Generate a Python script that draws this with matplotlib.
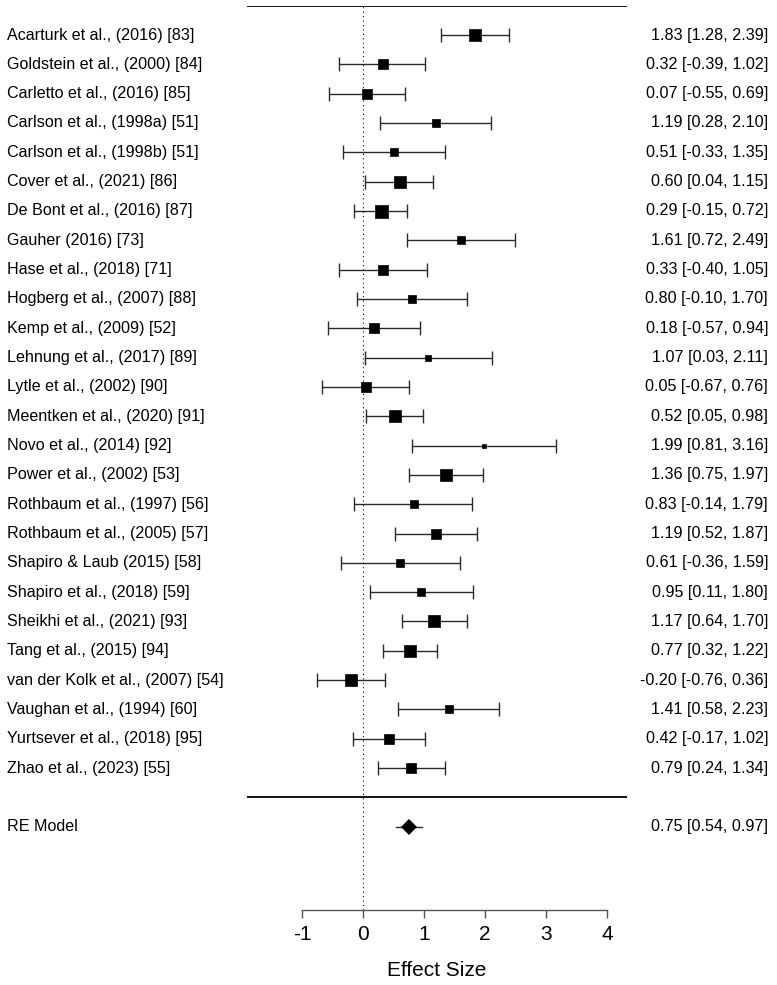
import numpy as np
import matplotlib
matplotlib.use("Agg")
from matplotlib import pyplot as plt

plt.rcParams['font.family'] = ['Liberation Sans', 'DejaVu Sans']

# studies, top to bottom
studies = [
    "Acarturk et al., (2016) [83]", "Goldstein et al., (2000) [84]",
    "Carletto et al., (2016) [85]", "Carlson et al., (1998a) [51]",
    "Carlson et al., (1998b) [51]", "Cover et al., (2021) [86]",
    "De Bont et al., (2016) [87]", "Gauher (2016) [73]",
    "Hase et al., (2018) [71]", "Hogberg et al., (2007) [88]",
    "Kemp et al., (2009) [52]", "Lehnung et al., (2017) [89]",
    "Lytle et al., (2002) [90]", "Meentken et al., (2020) [91]",
    "Novo et al., (2014) [92]", "Power et al., (2002) [53]",
    "Rothbaum et al., (1997) [56]", "Rothbaum et al., (2005) [57]",
    "Shapiro & Laub (2015) [58]", "Shapiro et al., (2018) [59]",
    "Sheikhi et al., (2021) [93]", "Tang et al., (2015) [94]",
    "van der Kolk et al., (2007) [54]", "Vaughan et al., (1994) [60]",
    "Yurtsever et al., (2018) [95]", "Zhao et al., (2023) [55]",
]
effect = [1.83, 0.32, 0.07, 1.19, 0.51, 0.60, 0.29, 1.61, 0.33, 0.80, 0.18, 1.07, 0.05,
          0.52, 1.99, 1.36, 0.83, 1.19, 0.61, 0.95, 1.17, 0.77, -0.20, 1.41, 0.42, 0.79]
ci_low = [1.28, -0.39, -0.55, 0.28, -0.33, 0.04, -0.15, 0.72, -0.40, -0.10, -0.57, 0.03, -0.67,
          0.05, 0.81, 0.75, -0.14, 0.52, -0.36, 0.11, 0.64, 0.32, -0.76, 0.58, -0.17, 0.24]
ci_high = [2.39, 1.02, 0.69, 2.10, 1.35, 1.15, 0.72, 2.49, 1.05, 1.70, 0.94, 2.11, 0.76,
           0.98, 3.16, 1.97, 1.79, 1.87, 1.59, 1.80, 1.70, 1.22, 0.36, 2.23, 1.02, 1.34]
# approximate study weights (%), read from the square sizes
weights = [4.56, 3.89, 4.11, 3.00, 3.22, 4.56, 5.00, 3.00, 3.89, 3.00, 3.67, 2.33, 3.89,
           4.78, 1.00, 4.33, 2.78, 4.11, 2.78, 3.22, 4.33, 4.78, 4.33, 3.22, 4.11, 4.11]

re_label = "RE Model"
re_effect, re_low, re_high = 0.75, 0.54, 0.97

xticks = [-1, 0, 1, 2, 3, 4]
xlabel = "Effect Size"

k = len(studies)
rows = np.arange(k, 0, -1)

fig = plt.figure(figsize=(7.77, 9.85), dpi=100)
# 0 sits at 363 px, 61 px per unit; rows run from 5.7 px (row 27) to the axis at 910 px
ax = fig.add_axes([0, 1 - 910 / 985, 1, (910 - 5.7) / 985])
ax.set_xlim(-363 / 61, (777 - 363) / 61)
ax.set_ylim(-3.84, k + 1)

fs = 11.6
x_left = (7 - 363) / 61
x_right = (768 - 363) / 61
line_col = '#2a2a2a'

# side of the squares grows with the weight
w = np.array(weights)
side_px = 4 + (w - w.min()) / (w.max() - w.min()) * 9
ms = side_px * 0.72

for i in range(k):
    y = rows[i]
    ax.errorbar(effect[i], y, xerr=[[effect[i] - ci_low[i]], [ci_high[i] - effect[i]]],
                fmt='none', ecolor=line_col, elinewidth=1.0, capsize=5, capthick=1.0, zorder=2)
    ax.plot(effect[i], y, marker='s', ms=ms[i], color='black', mec='black', mew=0.5, zorder=3)
    ax.text(x_left, y, studies[i], ha='left', va='center', fontsize=fs)
    ax.text(x_right, y, f"{effect[i]:.2f} [{ci_low[i]:.2f}, {ci_high[i]:.2f}]",
            ha='right', va='center', fontsize=fs)

# summary
ax.plot([re_low, re_high], [-1, -1], color=line_col, lw=1.0, zorder=2)
ax.plot(re_effect, -1, marker='D', ms=8.3, color='black', mew=0, zorder=3)
ax.text(x_left, -1, re_label, ha='left', va='center', fontsize=fs)
ax.text(x_right, -1, f"{re_effect:.2f} [{re_low:.2f}, {re_high:.2f}]",
        ha='right', va='center', fontsize=fs)

# horizontal rules and reference line
ax.hlines([k + 1, 0], -1.9, 4.33, color='black', lw=1.3)
ax.vlines(0, -3.84, k + 1, color='black', lw=0.8, linestyles=(0, (1, 3)))

for s in ['top', 'right', 'left']:
    ax.spines[s].set_visible(False)
ax.spines['bottom'].set_bounds(-1, 4)
ax.spines['bottom'].set_color('#555555')
ax.spines['bottom'].set_linewidth(1.0)
ax.set_yticks([])
ax.set_xticks(xticks)
ax.set_xticklabels([str(t) for t in xticks])
ax.tick_params(axis='x', direction='out', length=6, width=1.0, color='#555555',
               labelsize=15, pad=5)

# axis title, as placed in the original
fig.text(437 / 777, 1 - 970 / 985, xlabel, ha='center', va='center', fontsize=15)

fig.savefig("out.png", dpi=100)
